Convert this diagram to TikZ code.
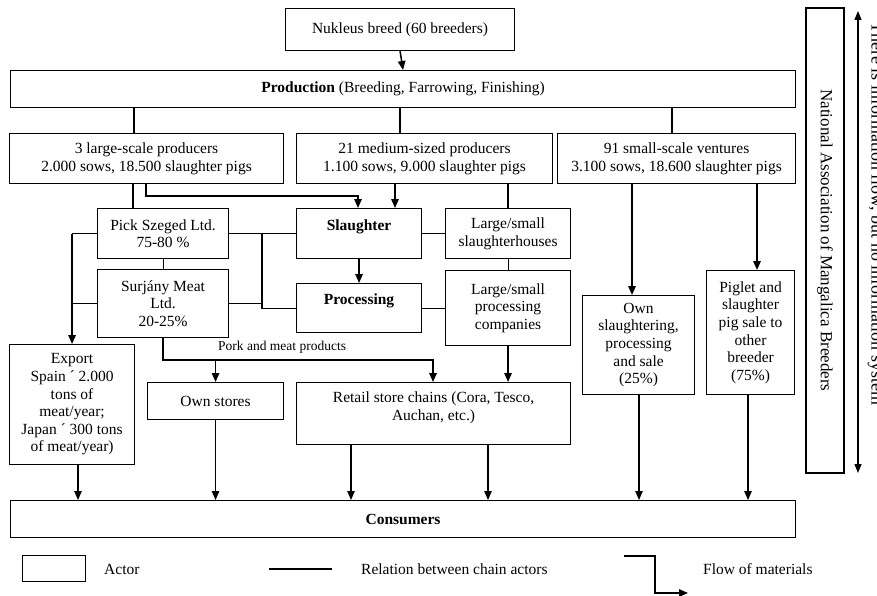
\documentclass[tikz,border=0pt]{standalone}
\usepackage{fontspec}
\setmainfont{Liberation Serif}
\usetikzlibrary{arrows.meta}
\newcommand\mainfs{\fontsize{15.5}{17.6}\selectfont}
\newcommand\smallfs{\fontsize{13.5}{16}\selectfont}
\newcommand\natfs{\fontsize{17}{19}\selectfont}
\newcommand\infofs{\fontsize{18}{20}\selectfont}
\begin{document}
\begin{tikzpicture}[x=1pt,y=-1pt,
  box/.style={draw, line width=1.1pt, anchor=north west, inner sep=0pt, align=center, font=\mainfs},
  rel/.style={line width=1.1pt},
  flow/.style={line width=1.5pt, -{Triangle[length=9pt,width=7.5pt]}},
  thinflow/.style={line width=1.1pt, -{Triangle[length=9pt,width=7.5pt]}},
  lbl/.style={font=\mainfs, inner sep=0pt}]
\useasboundingbox (0,0) rectangle (877,596);

% boxes
\node[box, minimum width=229, minimum height=42] (nuk) at (285,8) {Nukleus breed (60 breeders)};
\node[box, minimum width=785, minimum height=37] (prod) at (10,70) {\textbf{Production} (Breeding, Farrowing, Finishing)};
\node[box, minimum width=274, minimum height=50] (large) at (9,133) {3 large-scale producers\\2.000 sows, 18.500 slaughter pigs};
\node[box, minimum width=256, minimum height=50] (med) at (296,133) {21 medium-sized producers\\1.100 sows, 9.000 slaughter pigs};
\node[box, minimum width=238, minimum height=50] (small) at (557,133) {91 small-scale ventures\\3.100 sows, 18.600 slaughter pigs};
\node[box, minimum width=131, minimum height=50] (pick) at (97,208) {Pick Szeged Ltd.\\75-80 \%};
\node[box, minimum width=131, minimum height=68] (sur) at (97,269) {Surjány Meat\\Ltd.\\20-25\%};
\node[box, minimum width=125, minimum height=50] (sla) at (296,208) {\textbf{Slaughter}\\\mbox{}};
\node[box, minimum width=125, minimum height=49] (pro) at (296,283) {\textbf{Processing}\\\mbox{}};
\node[box, minimum width=125, minimum height=50] (lsh) at (445,208) {Large/small\\slaughterhouses};
\node[box, minimum width=125, minimum height=75] (lpc) at (445,270) {Large/small\\processing\\companies};
\node[box, minimum width=125, minimum height=120] (exp) at (9,344) {Export\\Spain ´ 2.000\\tons of\\meat/year;\\Japan ´ 300 tons\\of meat/year)};
\node[box, minimum width=136, minimum height=37] (own) at (147,382) {Own stores};
\node[box, minimum width=274, minimum height=62] (ret) at (296,382) {Retail store chains (Cora, Tesco,\\Auchan, etc.)\\[-3pt]\mbox{}};
\node[box, minimum width=112, minimum height=99] (osl) at (582,295) {Own\\slaughtering,\\processing\\and sale\\(25\%)};
\node[box, minimum width=88, minimum height=124] (pig) at (706,270) {Piglet and\\slaughter\\pig sale to\\other\\breeder\\(75\%)};
\node[box, minimum width=785, minimum height=37] (cons) at (10,500) {\textbf{Consumers}};
\node[draw, line width=1.1pt, rotate=-90, minimum width=465, minimum height=38, inner sep=0pt, font=\natfs] (nat) at (825,240.5) {National Association of Mangalica Breeders};

% information flow
\coordinate (ia) at (858,11);
\coordinate (ib) at (858,473);
\draw[line width=1.4pt, {Triangle[length=9pt,width=7pt]}-{Triangle[length=9pt,width=7pt]}] (ia) -- (ib);
\node[font=\infofs, rotate=-90, anchor=base west, inner sep=0pt] (info) at (871.5,22) {There is information flow, but no information system};

% top
\draw[flow] (nuk.south) -- (prod.north);
\draw[rel] (134,0 |- prod.south) -- (134,0 |- large.north);
\draw[rel] (400,0 |- prod.south) -- (400,0 |- med.north);
\draw[rel] (672,0 |- prod.south) -- (672,0 |- small.north);

% large / medium to second row
\draw[rel] (133,0 |- large.south) -- (133,0 |- pick.north);
\draw[flow] (146,0 |- large.south) |- (358,196) -- (358,0 |- sla.north);
\draw[flow] (395,0 |- med.south) -- (395,0 |- sla.north);
\draw[rel] (508,0 |- med.south) -- (508,0 |- lsh.north);

% relations middle
\draw[rel] (pick.east) -- (sla.west);
\draw[rel] (262,0 |- pick.east) |- (pro.west);
\draw[rel] (sur.east) -- (262,0 |- sur.east);
\draw[rel] (pick.south) -- (sur.north);
\draw[rel] (sla.east) -- (lsh.west);
\draw[rel] (pro.east) -- (lpc.west);
\draw[rel] (lsh.south) -- (lpc.north);
\draw[flow] (sla.south) -- (pro.north);

% export
\coordinate (lj) at (exp.north |- pick.west);
\draw[rel] (pick.west) -- (lj);
\draw[rel] (sur.west) -- (exp.north |- sur.west);
\draw[flow] (lj) -- (exp.north);

% pork and meat products
\draw[flow] (sur.south) |- (433,360) -- (433,0 |- ret.north);
\draw[flow] (own.north |- 0,360) -- (own.north);
\node[font=\smallfs, anchor=base west, inner sep=0pt] (pork) at (218,350) {Pork and meat products};
\draw[flow] (lpc.south) -- (ret.north -| lpc.south);

% small-scale
\draw[flow] (632,0 |- small.south) -- (632,0 |- osl.north);
\draw[flow] (757,0 |- small.south) -- (757,0 |- pig.north);

% to consumers
\draw[thinflow] (78,0 |- exp.south) -- (78,0 |- cons.north);
\draw[thinflow] (own.south) -- (own.south |- cons.north);
\draw[thinflow] (351,0 |- ret.south) -- (351,0 |- cons.north);
\draw[thinflow] (488,0 |- ret.south) -- (488,0 |- cons.north);
\draw[thinflow] (639,0 |- osl.south) -- (639,0 |- cons.north);
\draw[thinflow] (748,0 |- pig.south) -- (748,0 |- cons.north);

% legend
\node[box, minimum width=63, minimum height=26] (lgact) at (22,555) {};
\node[lbl, anchor=west] (lgactt) at (104,569) {Actor};
\coordinate (lr1) at (269,569);
\coordinate (lr2) at (332,569);
\draw[rel] (lr1) -- (lr2);
\node[lbl, anchor=west] (lgrel) at (361,569) {Relation between chain actors};
\coordinate (lf1) at (624,556);
\coordinate (lf2) at (688,593);
\draw[flow] (lf1) -- (655,0 |- lf1) -- (655,0 |- lf2) -- (lf2);
\node[lbl, anchor=west] (lgflow) at (703,569) {Flow of materials};
\end{tikzpicture}
\end{document}
